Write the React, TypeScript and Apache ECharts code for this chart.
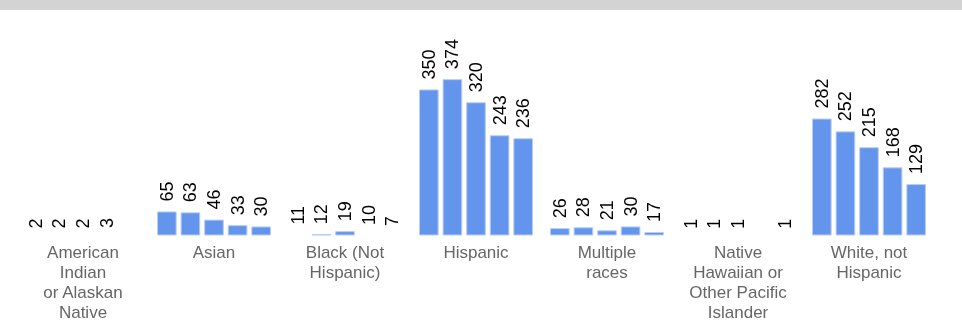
import React, { useEffect, useRef } from "react";
import * as echarts from "echarts";

const categories = [
  "American\nIndian\nor Alaskan\nNative",
  "Asian",
  "Black (Not\nHispanic)",
  "Hispanic",
  "Multiple\nraces",
  "Native\nHawaiian or\nOther Pacific\nIslander",
  "White, not\nHispanic",
];

const seriesNames = ["Year 1", "Year 2", "Year 3", "Year 4", "Year 5"];

const year1 = [2, 65, 11, 350, 26, 1, 282];
const year2 = [2, 63, 12, 374, 28, 1, 252];
const year3 = [2, 46, 19, 320, 21, 1, 215];
const year4 = [3, 33, 10, 243, 30, null, 168];
const year5 = [null, 30, 7, 236, 17, 1, 129];

const allYears = [year1, year2, year3, year4, year5];

const BAR_COLOR = "#6495ed";
const CAT_GAP = 0.13;
const BAR_GAP = 0.2;
const LABEL_GAP = 10;
const FONT = 'Arial, "Liberation Sans", sans-serif';

export default function App() {
  const ref = useRef<HTMLDivElement>(null);
  useEffect(() => {
    if (!ref.current) return;
    const chart = echarts.init(ref.current, null, { renderer: "svg" });
    const n = allYears.length;
    const labelData: number[][] = [];
    allYears.forEach((arr, k) => {
      arr.forEach((v, c) => {
        if (v !== null && v !== undefined) labelData.push([c, k, v]);
      });
    });
    const option: any = {
      animation: false,
      textStyle: { fontFamily: FONT },
      graphic: [
        {
          type: "rect",
          left: 0,
          top: 0,
          shape: { x: 0, y: 0, width: 962, height: 10 },
          style: { fill: "#d3d3d3" },
          silent: true,
        },
      ],
      grid: { left: 17.5, right: 27.5, top: 68, bottom: 101, containLabel: false },
      xAxis: {
        type: "category",
        data: categories,
        axisLine: { show: false },
        axisTick: { show: false },
        axisLabel: {
          interval: 0,
          color: "#666666",
          fontSize: 17,
          lineHeight: 20,
          margin: 7,
          fontFamily: FONT,
        },
        splitLine: { show: false },
      },
      yAxis: {
        type: "value",
        min: 10,
        max: 400,
        show: false,
        splitLine: { show: false },
      },
      series: [
        ...allYears.map((arr, k) => ({
          name: seriesNames[k],
          type: "bar",
          data: arr.map((v) => (v === null ? "-" : v)),
          barGap: BAR_GAP * 100 + "%",
          barCategoryGap: CAT_GAP * 100 + "%",
          clip: true,
          itemStyle: { color: BAR_COLOR, borderColor: "#b9cdf6", borderWidth: 1 },
          label: { show: false },
        })),
        {
          type: "custom",
          name: "labels",
          silent: true,
          z: 10,
          encode: { x: 0, y: 2 },
          data: labelData,
          renderItem: (params: any, api: any) => {
            const c = api.value(0);
            const k = api.value(1);
            const v = api.value(2);
            const pt = api.coord([c, v]);
            const band = api.size([1, 0])[0];
            const group = band * (1 - CAT_GAP);
            const w = group / (n + (n - 1) * BAR_GAP);
            const x = pt[0] - group / 2 + k * w * (1 + BAR_GAP) + w / 2;
            return {
              type: "text",
              x: x,
              y: pt[1] - LABEL_GAP,
              rotation: Math.PI / 2,
              style: {
                text: String(v),
                align: "left",
                verticalAlign: "middle",
                fill: "#000000",
                font: "18px " + FONT,
              },
            };
          },
        },
      ],
    };
    chart.setOption(option);
    return () => chart.dispose();
  }, []);
  return (
    <div
      ref={ref}
      style={{ position: "fixed", left: 0, top: 0, width: 962, height: 336 }}
    />
  );
}
